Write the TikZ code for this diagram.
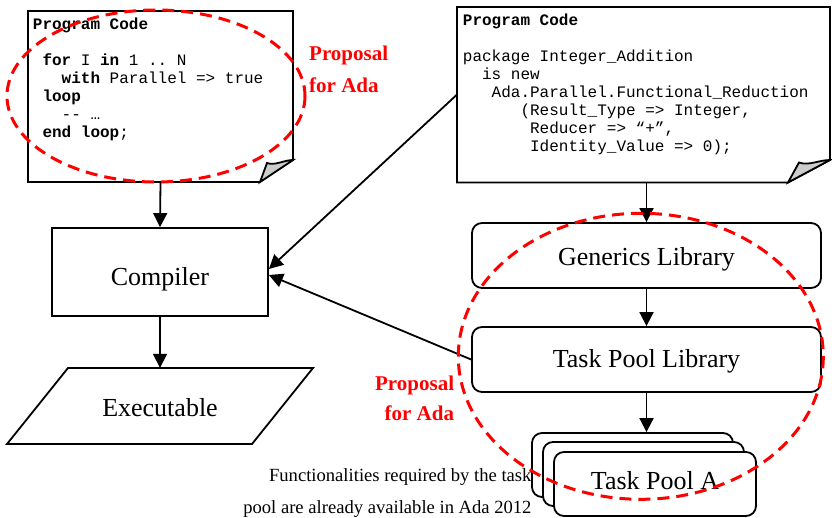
\documentclass[tikz,border=0pt]{standalone}
\usepackage{fontspec}
\setmainfont{Liberation Serif}
\setmonofont{Liberation Mono}
\usetikzlibrary{arrows.meta}
\newcommand\ind[1]{\hspace*{#1\dimexpr 0.6em\relax}}
\newcommand\shiftit[2]{\raisebox{#1}[\height][\depth]{#2}}
\begin{document}
\begin{tikzpicture}[x=1pt,y=-1pt,line join=miter,
  outline/.style={draw=black,line width=1.8pt,fill=white},
  foldcorner/.style={draw=black,line width=1.8pt,fill=gray!40},
  frame/.style={inner sep=0pt,minimum width=#1},
  codetext/.style={font=\ttfamily\fontsize{16}{18}\selectfont,align=left,inner sep=0pt,anchor=north west},
  proc/.style={draw,line width=1.8pt,fill=white,font=\fontsize{26}{30}\selectfont,inner sep=0pt},
  lib/.style={proc,rounded corners=10pt,minimum width=349pt,minimum height=65pt},
  pool/.style={proc,rounded corners=10pt,minimum width=201pt,minimum height=64pt},
  arr/.style={line width=1.8pt,-{Triangle[length=14pt,width=14pt]}},
  proposal/.style={text=red,font=\bfseries\fontsize{21}{31.7}\selectfont,inner sep=0pt},
  caption/.style={font=\fontsize{18.6}{32}\selectfont,align=right,inner sep=0pt},
  redring/.style={draw=red,line width=3pt,dash pattern=on 12pt off 7pt}]
\useasboundingbox (0,0) rectangle (832,518);

% ---- left document
\node[frame=265pt,minimum height=171pt] (doc1) at (160.5,96.5) {};
\draw[outline] (28,11) -- (293,11) -- (293,160) -- (260,182) -- (28,182) -- cycle;
\draw[foldcorner] (260,182) -- (267,163) .. controls (275,166) and (284,160) .. (293,160) -- cycle;
\node[codetext] (code1) at (32.7,18) {\textbf{Program Code}\\[18pt]
\ind{1}\textbf{for} I \textbf{in} 1 .. N\\
\ind{3}\textbf{with} Parallel => true\\
\ind{1}\textbf{loop}\\
\ind{3}-{}- …\\
\ind{1}\textbf{end loop};};

% ---- right document
\node[frame=373pt,minimum height=175.5pt] (doc2) at (643.5,94.75) {};
\draw[outline] (457,7) -- (830,7) -- (830,160) -- (788,182.5) -- (457,182.5) -- cycle;
\draw[foldcorner] (788,182.5) -- (799,162.5) .. controls (809,166) and (819,160) .. (830,160) -- cycle;
\node[codetext] (code2) at (462.7,14) {\textbf{Program Code}\\[18pt]
package Integer\_Addition\\
\ind{2}is new\\
\ind{3}Ada.Parallel.Functional\_Reduction\\
\ind{6}(Result\_Type => Integer,\\
\ind{7}Reducer => “+”,\\
\ind{7}Identity\_Value => 0);};

% ---- left column
\node[proc,minimum width=216pt,minimum height=88pt] (comp) at (160,272) {\shiftit{-7.5pt}{Compiler}};
\node[frame=245pt,minimum height=76pt] (exe) at (160,406) {};
\draw[outline] (68,368) -- (313,368) -- (252,444) -- (7,444) -- cycle;
\node[font=\fontsize{26}{30}\selectfont,inner sep=0pt] (exetext) at (160,408) {Executable};

% ---- caption (behind task pools)
\node[caption,anchor=north east] (cap) at (531.7,468.5) {Functionalities required by the task\\pool are already available in Ada 2012};

% ---- right column
\node[lib] (gen) at (646.5,255.5) {\shiftit{-3.5pt}{Generics Library}};
\node[lib] (tpl) at (646.5,359.5) {\shiftit{-2pt}{Task Pool Library}};
\node[pool] (tp3) at (632.5,465) {};
\node[pool] (tp2) at (643.5,474) {};
\node[pool,minimum width=202pt] (tp1) at (655,484) {\shiftit{3.5pt}{Task Pool A}};

% ---- connectors
\draw[arr] (doc1.south) -- (comp.north);
\draw[arr] (comp.south) -- (exe.north);
\draw[arr] (gen.north |- doc2.south) -- (gen.north);
\draw[arr] (gen.south) -- (tpl.north);
\draw[arr] (tpl.south) -- (tpl.south |- tp3.north);
\draw[arr] (doc2.west) -- ([yshift=3pt]comp.east);
\draw[arr] (tpl.west) -- ([yshift=-3pt]comp.east);

% ---- proposal labels
\node[proposal,align=left,anchor=north west] (prop1) at (309,45.7) {Proposal\\for Ada};
\node[proposal,align=right,anchor=north east,font=\bfseries\fontsize{21}{30}\selectfont] (prop2) at (454.3,375.5) {Proposal\\for Ada};

% ---- red dashed rings
\draw[redring] (156,96) ellipse [x radius=149,y radius=86];
\draw[redring] (640.8,356.3) ellipse [x radius=182.5,y radius=143];
\end{tikzpicture}
\end{document}
